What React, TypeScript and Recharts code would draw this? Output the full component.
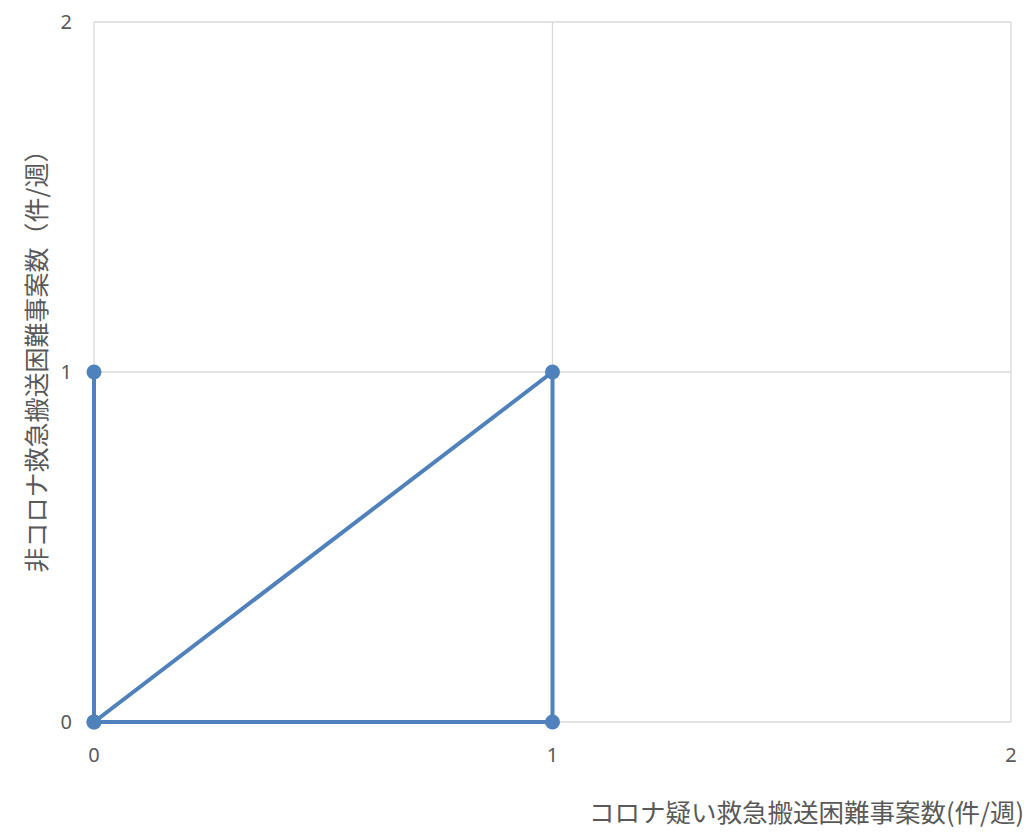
import React from 'react';
import { CartesianGrid, Scatter, ScatterChart, XAxis, YAxis } from 'recharts';

// 点の順番どおりに線でつなぐ
const xValues = [0, 0, 1, 1, 0];
const yValues = [1, 0, 1, 0, 0];
const axisTicks = [0, 1, 2];
const xTitle = 'コロナ疑い救急搬送困難事案数(件/週)';
const yTitle = '非コロナ救急搬送困難事案数（件/週）';

const blue = '#4f81bd';
const grid = '#d9d9d9';
const textGray = '#595959';
const cjkFont = '"Noto Sans CJK JP", "Noto Sans", sans-serif';

const Dot = (props: any) => <circle cx={props.cx} cy={props.cy} r={7.5} fill={blue} />;

export default function App() {
  const data = xValues.map((x, i) => ({ x, y: yValues[i] }));

  return (
    <div
      style={{
        position: 'fixed',
        left: 0,
        top: 0,
        width: 1035,
        height: 832,
        overflow: 'hidden',
        background: '#fff',
      }}
    >
      <ScatterChart
        width={1035}
        height={832}
        margin={{ top: 22, right: 24, left: 34, bottom: 80 }}
      >
        <CartesianGrid stroke={grid} strokeWidth={1.3} />
        <XAxis
          type="number"
          dataKey="x"
          domain={[0, 2]}
          ticks={axisTicks}
          axisLine={false}
          tickLine={false}
          tickSize={0}
          tickMargin={26}
          tick={{ fill: textGray, fontSize: 20, fontFamily: '"Noto Sans", sans-serif' }}
          label={{
            content: () => (
              <text
                x={589}
                y={822}
                fill={textGray}
                fontSize={25.5}
                fontFamily={cjkFont}
              >
                {xTitle}
              </text>
            ),
          }}
        />
        <YAxis
          type="number"
          dataKey="y"
          width={60}
          domain={[0, 2]}
          ticks={axisTicks}
          axisLine={false}
          tickLine={false}
          tickSize={0}
          tickMargin={22}
          tick={{ fill: textGray, fontSize: 20, fontFamily: '"Noto Sans", sans-serif' }}
          label={{
            content: () => (
              <text
                x={35}
                y={355}
                fill={textGray}
                fontSize={25}
                fontFamily={cjkFont}
                textAnchor="middle"
                dominantBaseline="central"
                transform="rotate(-90 35 355)"
              >
                {yTitle}
              </text>
            ),
          }}
        />
        <Scatter
          data={data}
          fill={blue}
          shape={Dot}
          line={{ stroke: blue, strokeWidth: 4 }}
          lineType="joint"
          isAnimationActive={false}
        />
      </ScatterChart>
    </div>
  );
}
